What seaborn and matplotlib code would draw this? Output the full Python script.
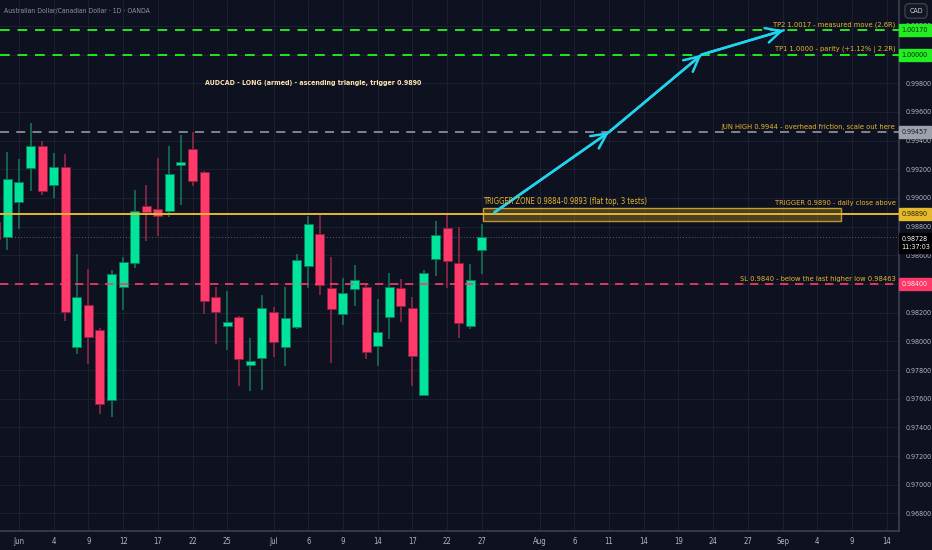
import matplotlib
matplotlib.use("Agg")
import matplotlib.pyplot as plt
import matplotlib.transforms as mtransforms
from matplotlib import font_manager
from matplotlib.patches import Rectangle
import numpy as np
import pandas as pd
import seaborn as sns

# daily candles, first bar = Thu 28 May 2026
opens = [0.98830, 0.98730, 0.98970, 0.99209, 0.99365, 0.99091, 0.99214, 0.97960, 0.98253, 0.98079,
         0.97591, 0.98379, 0.98547, 0.98942, 0.98921, 0.98911, 0.99228, 0.99342, 0.99179, 0.98311,
         0.98109, 0.98168, 0.97833, 0.97886, 0.98203, 0.97960, 0.98102, 0.98526, 0.98749, 0.98372,
         0.98193, 0.98365, 0.98381, 0.97965, 0.98172, 0.98372, 0.98230, 0.97628, 0.98577, 0.98791,
         0.98549, 0.98107, 0.98639]
highs = [0.98900, 0.99323, 0.99272, 0.99521, 0.99400, 0.99312, 0.99305, 0.98609, 0.98503, 0.98095,
         0.98498, 0.98590, 0.99056, 0.99091, 0.99277, 0.99365, 0.99440, 0.99458, 0.99188, 0.98379,
         0.98351, 0.98175, 0.98025, 0.98323, 0.98240, 0.98381, 0.98607, 0.98877, 0.98890, 0.98590,
         0.98440, 0.98530, 0.98400, 0.98293, 0.98477, 0.98433, 0.98309, 0.98498, 0.98842, 0.98886,
         0.98800, 0.98540, 0.98817]
lows = [0.98660, 0.98637, 0.98784, 0.99051, 0.99019, 0.99000, 0.98142, 0.97914, 0.97840, 0.97493,
        0.97474, 0.98219, 0.98514, 0.98700, 0.98737, 0.98870, 0.98951, 0.99082, 0.98189, 0.97979,
        0.97940, 0.97690, 0.97656, 0.97660, 0.97889, 0.97830, 0.98084, 0.98374, 0.98323, 0.97851,
        0.98114, 0.98246, 0.97875, 0.97830, 0.98014, 0.98137, 0.97690, 0.97619, 0.98454, 0.98374,
        0.98025, 0.98086, 0.98468]
closes = [0.98714, 0.99133, 0.99114, 0.99365, 0.99047, 0.99218, 0.98203, 0.98311, 0.98028, 0.97561,
          0.98472, 0.98556, 0.98911, 0.98900, 0.98874, 0.99165, 0.99251, 0.99121, 0.98279, 0.98207,
          0.98135, 0.97875, 0.97863, 0.98235, 0.97997, 0.98161, 0.98567, 0.98817, 0.98393, 0.98228,
          0.98335, 0.98430, 0.97926, 0.98065, 0.98379, 0.98249, 0.97900, 0.98477, 0.98740, 0.98563,
          0.98126, 0.98430, 0.98728]

tick_dates = ["2026-06-01", "2026-06-04", "2026-06-09", "2026-06-12", "2026-06-17", "2026-06-22",
              "2026-06-25", "2026-07-01", "2026-07-06", "2026-07-09", "2026-07-14", "2026-07-17",
              "2026-07-22", "2026-07-27", "2026-08-03", "2026-08-06", "2026-08-11", "2026-08-14",
              "2026-08-19", "2026-08-24", "2026-08-27", "2026-09-01", "2026-09-04", "2026-09-09",
              "2026-09-14"]
tick_labels = ["Jun", "4", "9", "12", "17", "22", "25", "Jul", "6", "9", "14", "17", "22", "27",
               "Aug", "6", "11", "14", "19", "24", "27", "Sep", "4", "9", "14"]

# levels
tp2, tp1, jun_high, trigger, sl = 1.0017, 1.0000, 0.99457, 0.9889, 0.9840
zone_low, zone_high = 0.9884, 0.9893
last_price = 0.98728

# projected path (bar offsets from Jun 1, price)
path_bar = [41.1, 51.0, 59.0, 66.1]
path_price = [0.9890, 0.9946, 1.0000, 1.0017]

BG = "#0e1120"
GRID = "#1b1f30"
UP = "#00e59b"
DOWN = "#ff3a6a"
UP_WICK = "#137a5a"
DOWN_WICK = "#9a2a48"
GOLD = "#e6b82c"
LIME = "#22e622"
AXIS_TXT = "#b2b5be"

sns.set_theme(style="dark", rc={"axes.facecolor": BG, "figure.facecolor": BG})
fonts = font_manager.fontManager.ttflist
names = {f.name for f in fonts}
k = 1.0
if "Liberation Sans Narrow" in names:
    plt.rcParams["font.family"] = ["Liberation Sans Narrow", "DejaVu Sans"]
    k = 1.25
elif any(f.name == "DejaVu Sans" and f.stretch == "condensed" for f in fonts):
    plt.rcParams["font.family"] = ["DejaVu Sans"]
    plt.rcParams["font.stretch"] = "condensed"
    k = 1.12
else:
    plt.rcParams["font.family"] = ["DejaVu Sans"]

cal = pd.bdate_range("2026-05-28", "2026-09-30")
pos = {d: i - 2 for i, d in enumerate(cal)}
bars = np.array([pos[d] for d in cal[:len(opens)]])

fig = plt.figure(figsize=(9.32, 5.5), dpi=100)
ax = fig.add_axes([0, 19 / 550, 899 / 932, 531 / 550])
ax.set_xlim(-1.64, 76.06)
ax.set_ylim(0.96677, 1.00381)

# grid
xt = [pos[pd.Timestamp(d)] for d in tick_dates]
ax.set_xticks(xt)
ax.set_xticklabels(tick_labels)
yt = np.round(np.arange(0.968, 1.0021, 0.002), 3)
ax.set_yticks(yt)
ax.set_yticklabels([f"{v:.5f}" for v in yt])
ax.yaxis.tick_right()
ax.grid(True, color=GRID, linewidth=0.8)
ax.tick_params(axis="y", length=0, colors=AXIS_TXT, labelsize=4.6 * k, pad=4.5)
ax.tick_params(axis="x", length=0, colors=AXIS_TXT, labelsize=5.0 * k, pad=4)
for s in ["top", "left"]:
    ax.spines[s].set_visible(False)
ax.spines["bottom"].set_color("#3a3e4c")
ax.spines["right"].set_color("#3a3e4c")

# candles
o, h, l, c = map(np.array, (opens, highs, lows, closes))
up = c >= o
ax.vlines(bars[up], l[up], h[up], color=UP_WICK, linewidth=1.1, zorder=2)
ax.vlines(bars[~up], l[~up], h[~up], color=DOWN_WICK, linewidth=1.1, zorder=2)
body_lo = np.minimum(o, c)
body_h = np.maximum(np.abs(c - o), 0.00008)
ax.bar(bars[up], body_h[up], bottom=body_lo[up], width=0.78, color=UP,
       edgecolor="#0a7a58", linewidth=0.6, zorder=3)
ax.bar(bars[~up], body_h[~up], bottom=body_lo[~up], width=0.78, color=DOWN,
       edgecolor="#8c2040", linewidth=0.6, zorder=3)

# levels
ax.axhline(tp2, color=LIME, linestyle=(0, (5, 4)), linewidth=1.4, zorder=4)
ax.axhline(tp1, color=LIME, linestyle=(0, (5, 4)), linewidth=1.4, zorder=4)
ax.axhline(jun_high, color="#8a8d99", linestyle=(0, (5, 4)), linewidth=1.3, zorder=4)
ax.axhline(trigger, color=GOLD, linewidth=1.4, zorder=4)
ax.axhline(sl, color=DOWN, linestyle=(0, (5, 4)), linewidth=1.2, zorder=4)
ax.axhline(last_price, color="#5a5e6a", linestyle=(0, (1, 2)), linewidth=0.7, zorder=1)

ax.add_patch(Rectangle((40.08, zone_low), 31.0, zone_high - zone_low, facecolor=GOLD, alpha=0.28,
                       edgecolor="none", zorder=4))
ax.add_patch(Rectangle((40.08, zone_low), 31.0, zone_high - zone_low, facecolor="none",
                       edgecolor=GOLD, linewidth=1.0, alpha=0.8, zorder=4))

# projected path
sns.lineplot(x=path_bar, y=path_price, ax=ax, color="#22d3ee", linewidth=1.8, sort=False,
             zorder=6)
for i in range(1, len(path_bar)):
    ax.annotate("", xy=(path_bar[i], path_price[i]), xytext=(path_bar[i - 1], path_price[i - 1]),
                arrowprops=dict(arrowstyle="->,head_length=0.9,head_width=0.45", color="#22d3ee",
                                lw=1.8, shrinkA=0, shrinkB=0), zorder=6)

# notes
blend = mtransforms.blended_transform_factory(ax.transAxes, ax.transData)
off = mtransforms.offset_copy(ax.transData, fig=fig, y=1.5, units="points")
xr = 76.2
for y, txt in [(tp2, "TP2 1.0017 - measured move (2.6R)"),
               (tp1, "TP1 1.0000 - parity (+1.12% | 2.2R)"),
               (jun_high, "JUN HIGH 0.9944 - overhead friction, scale out here"),
               (zone_high, "TRIGGER 0.9890 - daily close above"),
               (sl, "SL 0.9840 - below the last higher low 0.98463")]:
    ax.text(xr - 0.45, y, txt, transform=off, ha="right", va="bottom", color=GOLD,
            fontsize=4.8 * k, zorder=7)
ax.text(40.1, zone_high, "TRIGGER ZONE 0.9884-0.9893 (flat top, 3 tests)", transform=off,
        ha="left", va="bottom", color=GOLD, fontsize=4.9 * k, zorder=7)
ax.text(16.1, 0.99785, "AUDCAD - LONG (armed) - ascending triangle, trigger 0.9890",
        color="#fbe6b0", fontsize=4.5 * k, fontweight="bold", zorder=7)
fig.text(4 / 932, 1 - 11 / 550, "Australian Dollar/Canadian Dollar \u00b7 1D \u00b7 OANDA",
         color="#8f93a0", fontsize=4.4 * k, va="center")

# price labels on the scale
def tag(y, txt, bg, fg):
    ax.text(1.003, y, txt, transform=blend, ha="left", va="center", fontsize=4.6 * k, color=fg,
            zorder=10, clip_on=False,
            bbox=dict(boxstyle="square,pad=0.42", facecolor=bg, edgecolor=bg))

tag(tp2, "1.00170", "#22ee22", "#0b2a0b")
tag(tp1, "1.00000", "#22ee22", "#0b2a0b")
tag(jun_high, "0.99457", "#9ea1ab", "#1a1d28")
tag(trigger, "0.98890", GOLD, "#2a2208")
tag(sl, "0.98400", DOWN, "#ffe0e8")
ax.text(1.003, last_price + 0.00005, "0.98728\n11:37:03", transform=blend, ha="left", va="top",
        fontsize=4.6 * k, color="#ffffff", zorder=10, clip_on=False, linespacing=1.4,
        bbox=dict(boxstyle="square,pad=0.42", facecolor="#000000", edgecolor="#000000"))
fig.text(916 / 932, 1 - 11 / 550, "CAD", ha="center", va="center", fontsize=4.6 * k,
         color="#d0d3dc",
         bbox=dict(boxstyle="round,pad=0.6", facecolor="#131722", edgecolor="#3a3e4c"))

fig.savefig("out.png", dpi=100, facecolor=BG)
